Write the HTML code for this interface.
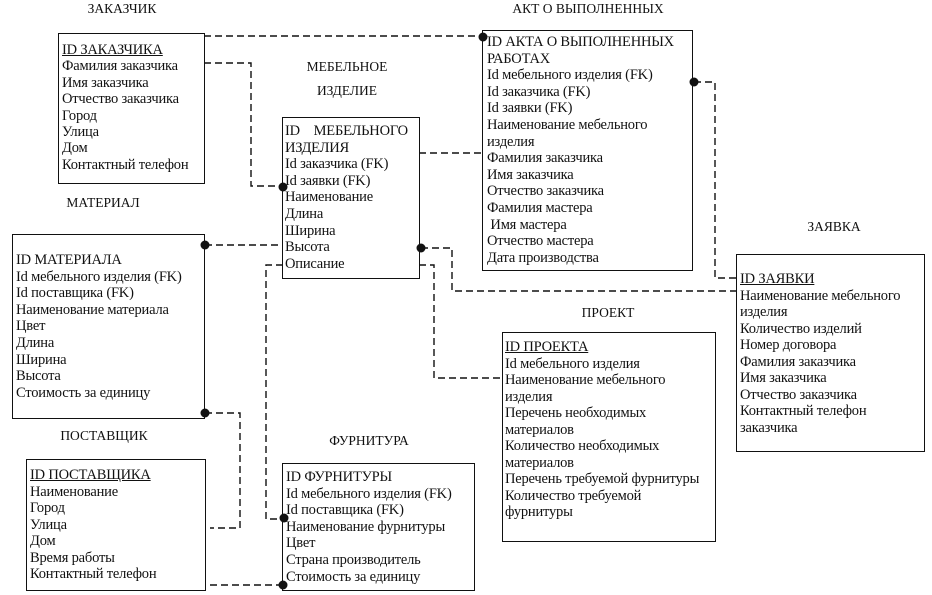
<!DOCTYPE html>
<html><head><meta charset="utf-8"><style>
body{margin:0;width:932px;height:595px;background:#fff;position:relative;overflow:hidden;font-family:"Liberation Serif","DejaVu Serif",serif;color:#111}
.t{position:absolute;font-family:"Liberation Serif",serif;font-size:13.5px;white-space:nowrap;transform:translateX(-50%)}
.b{position:absolute;border:1.5px solid #111;box-sizing:border-box}
.r{position:absolute;font-family:"Liberation Serif",serif;font-size:14.5px;white-space:nowrap;line-height:16px;letter-spacing:-0.2px}
u{text-decoration:underline}
svg{position:absolute;left:0;top:0}
</style></head><body>
<div class="t" style="left:122px;top:1px">ЗАКАЗЧИК</div>
<div class="t" style="left:347px;top:59px">МЕБЕЛЬНОЕ</div>
<div class="t" style="left:347px;top:83px">ИЗДЕЛИЕ</div>
<div class="t" style="left:588px;top:1px">АКТ О ВЫПОЛНЕННЫХ</div>
<div class="t" style="left:103px;top:195px">МАТЕРИАЛ</div>
<div class="t" style="left:834px;top:219px">ЗАЯВКА</div>
<div class="t" style="left:608px;top:305px">ПРОЕКТ</div>
<div class="t" style="left:104px;top:428px">ПОСТАВЩИК</div>
<div class="t" style="left:369px;top:433px">ФУРНИТУРА</div>

<div class="b" style="left:58px;top:33px;width:147px;height:151px"></div>
<div class="r" style="left:62px;top:42px;line-height:16.4px"><u>ID ЗАКАЗЧИКА</u><br>Фамилия заказчика<br>Имя заказчика<br>Отчество заказчика<br>Город<br>Улица<br>Дом<br>Контактный телефон</div>

<div class="b" style="left:282px;top:117px;width:138px;height:162px"></div>
<div class="r" style="left:285px;top:123px;line-height:16.6px">ID &nbsp;&nbsp;&nbsp;МЕБЕЛЬНОГО<br>ИЗДЕЛИЯ<br>Id заказчика (FK)<br>Id заявки (FK)<br>Наименование<br>Длина<br>Ширина<br>Высота<br>Описание</div>

<div class="b" style="left:482px;top:30px;width:211px;height:241px"></div>
<div class="r" style="left:487px;top:34px;line-height:16.6px">ID АКТА О ВЫПОЛНЕННЫХ<br>РАБОТАХ<br>Id мебельного изделия (FK)<br>Id заказчика (FK)<br>Id заявки (FK)<br>Наименование мебельного<br>изделия<br>Фамилия заказчика<br>Имя заказчика<br>Отчество заказчика<br>Фамилия мастера<br>&nbsp;Имя мастера<br>Отчество мастера<br>Дата производства</div>

<div class="b" style="left:12px;top:234px;width:193px;height:185px"></div>
<div class="r" style="left:16px;top:252px;line-height:16.6px">ID МАТЕРИАЛА<br>Id мебельного изделия (FK)<br>Id поставщика (FK)<br>Наименование материала<br>Цвет<br>Длина<br>Ширина<br>Высота<br>Стоимость за единицу</div>

<div class="b" style="left:736px;top:254px;width:189px;height:198px"></div>
<div class="r" style="left:740px;top:271px;line-height:16.5px"><u>ID ЗАЯВКИ</u><br>Наименование мебельного<br>изделия<br>Количество изделий<br>Номер договора<br>Фамилия заказчика<br>Имя заказчика<br>Отчество заказчика<br>Контактный телефон<br>заказчика</div>

<div class="b" style="left:502px;top:332px;width:214px;height:210px"></div>
<div class="r" style="left:505px;top:339px;line-height:16.5px"><u>ID ПРОЕКТА</u><br>Id мебельного изделия<br>Наименование мебельного<br>изделия<br>Перечень необходимых<br>материалов<br>Количество необходимых<br>материалов<br>Перечень требуемой фурнитуры<br>Количество требуемой<br>фурнитуры</div>

<div class="b" style="left:26px;top:459px;width:180px;height:132px"></div>
<div class="r" style="left:30px;top:467px;line-height:16.5px"><u>ID ПОСТАВЩИКА</u><br>Наименование<br>Город<br>Улица<br>Дом<br>Время работы<br>Контактный телефон</div>

<div class="b" style="left:282px;top:463px;width:193px;height:128px"></div>
<div class="r" style="left:286px;top:469px;line-height:16.6px">ID ФУРНИТУРЫ<br>Id мебельного изделия (FK)<br>Id поставщика (FK)<br>Наименование фурнитуры<br>Цвет<br>Страна производитель<br>Стоимость за единицу</div>

<svg width="932" height="595">
<g fill="none" stroke="#111" stroke-width="1.4" stroke-dasharray="7,4">
<path d="M204 36 H483"/>
<path d="M204 63 H251 V186 H283"/>
<path d="M419 153 H483"/>
<path d="M205 245 H283"/>
<path d="M421 248 H452 V291 H736"/>
<path d="M694 82 H715 V278 H736"/>
<path d="M419 265 H434 V378 H502"/>
<path d="M283 265 H266 V519 H283"/>
<path d="M205 413 H240 V528 H210"/>
<path d="M210 585 H283"/>
</g>
<g fill="#111">
<circle cx="483" cy="37" r="4.5"/><circle cx="283" cy="187" r="4.5"/>
<circle cx="205" cy="245" r="4.5"/><circle cx="421" cy="248" r="4.5"/>
<circle cx="694" cy="82" r="4.5"/><circle cx="284" cy="518" r="4.5"/>
<circle cx="205" cy="413" r="4.5"/><circle cx="283" cy="585" r="4.5"/>
</g>
</svg>
</body></html>
